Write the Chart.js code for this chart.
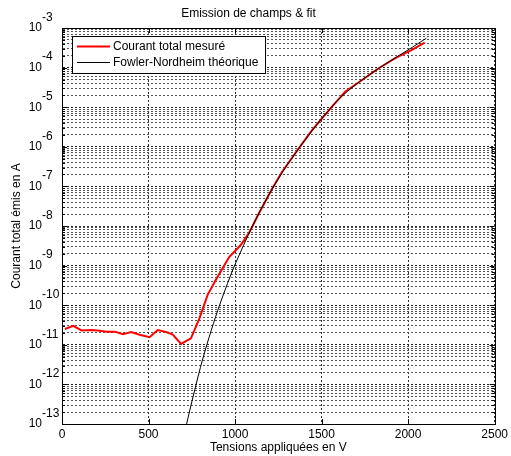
<!DOCTYPE html>
<html>
<head>
<meta charset="utf-8">
<script src="https://cdn.jsdelivr.net/npm/chart.js@4/dist/chart.umd.min.js"></script>
<style>
html,body{margin:0;padding:0;background:#fff}
#wrap{width:511px;height:456px}
</style>
</head>
<body>
<div id="wrap"><canvas id="c"></canvas></div>
<script>
// measured emission current (A) vs applied voltage (V)
const voltsMesure=[17,65,113,171,218,257,305,352,400,448,506,553,602,640,688,745,793,841,889,966,1033,1080,1138,1215,1272,1368,1444,1502,1559,1636,1732,1828,1923,2019,2096];
const courantMesure=[2.5e-11,3.0e-11,2.3e-11,2.35e-11,2.25e-11,2.15e-11,2.15e-11,1.85e-11,2.1e-11,1.8e-11,1.55e-11,2.35e-11,2.1e-11,1.8e-11,1.05e-11,1.45e-11,4.5e-11,1.8e-10,4.4e-10,1.65e-9,3.3e-9,6.6e-9,2.1e-8,8.9e-8,2.35e-7,9.1e-7,2.6e-6,5.2e-6,1.02e-5,2.45e-5,4.8e-5,9.5e-5,1.7e-4,2.75e-4,4.25e-4];

// Fowler-Nordheim curve
const voltsFN=[700,736,800,850,900,956,1000,1100,1200,1300,1400,1500,1600,1700,1800,1900,2000,2105];
const courantFN=[4.0e-14,2.0e-13,2.7e-12,1.55e-11,7.4e-11,3.5e-10,1.07e-9,9.8e-9,6.7e-8,3.4e-7,1.4e-6,5.1e-6,1.6e-5,3.8e-5,7.8e-5,1.5e-4,2.8e-4,5.5e-4];

const labels=['Courant total mesuré','Fowler-Nordheim théorique'];
const yExponents=[-13,-12,-11,-10,-9,-8,-7,-6,-5,-4,-3];
const xTicks=[0,500,1000,1500,2000,2500];

const FONT='"Liberation Sans", Arial, sans-serif';

const yTickList=[];
yExponents.forEach((e,i)=>{
  yTickList.push({value:Math.pow(10,e),major:true});
  if(i<yExponents.length-1) for(let k=2;k<=9;k++) yTickList.push({value:k*Math.pow(10,e),major:false});
});

const matlabAxes={
  id:'matlabAxes',
  afterDraw(chart){
    const {ctx,chartArea:a,scales:{x,y}}=chart;
    ctx.save();
    // inner tick marks
    ctx.strokeStyle='#000';ctx.lineWidth=1;
    ctx.beginPath();
    y.ticks.forEach(t=>{
      const py=Math.round(y.getPixelForValue(t.value))+0.5;
      const len=t.major?5:3;
      ctx.moveTo(a.left,py);ctx.lineTo(a.left+len,py);
      ctx.moveTo(a.right,py);ctx.lineTo(a.right-len,py);
    });
    xTicks.forEach(v=>{
      const px=Math.round(x.getPixelForValue(v))+0.5;
      ctx.moveTo(px,a.bottom);ctx.lineTo(px,a.bottom-5);
      ctx.moveTo(px,a.top);ctx.lineTo(px,a.top+5);
    });
    ctx.stroke();
    // box
    ctx.strokeRect(Math.round(a.left)+0.5,Math.round(a.top)+0.5,Math.round(a.right-a.left),Math.round(a.bottom-a.top));
    // y labels 10^n
    ctx.fillStyle='#000';
    ctx.textBaseline='middle';
    yExponents.forEach(e=>{
      const py=y.getPixelForValue(Math.pow(10,e));
      ctx.font='12px '+FONT;
      ctx.textAlign='right';
      ctx.fillText('10',42,py);
      ctx.textAlign='left';
      ctx.fillText(String(e),42,py-10.5);
    });
    // legend
    const lx=72,ly=36,lw=193,lh=37;
    ctx.fillStyle='#fff';ctx.fillRect(lx,ly,lw,lh);
    ctx.strokeStyle='#000';ctx.lineWidth=1;ctx.strokeRect(lx+0.5,ly+0.5,lw,lh);
    const ds=chart.data.datasets;
    [0,1].forEach(i=>{
      const cy=46+i*16;
      ctx.strokeStyle=ds[i].borderColor;ctx.lineWidth=ds[i].borderWidth;
      ctx.beginPath();ctx.moveTo(77,cy+0.5);ctx.lineTo(110,cy+0.5);ctx.stroke();
      ctx.fillStyle='#000';ctx.font='12px '+FONT;ctx.textAlign='left';
      ctx.fillText(ds[i].label,113,cy+0.5);
    });
    ctx.restore();
  }
};

new Chart(document.getElementById('c'),{
  type:'line',
  data:{
    datasets:[
      {label:labels[0],data:voltsMesure.map((v,i)=>({x:v,y:courantMesure[i]})),borderColor:'#ff0000',borderWidth:2,pointRadius:0,tension:0,fill:false,order:1},
      {label:labels[1],data:voltsFN.map((v,i)=>({x:v,y:courantFN[i]})),borderColor:'#000000',borderWidth:1,pointRadius:0,tension:0.3,fill:false,order:0}
    ]
  },
  options:{
    responsive:true,maintainAspectRatio:false,animation:false,
    layout:{padding:{top:0,right:14,left:0,bottom:0}},
    plugins:{
      legend:{display:false},tooltip:{enabled:false},
      title:{display:true,text:'Emission de champs & fit',color:'#000',font:{family:FONT,size:12,weight:'normal'},padding:{top:6,bottom:7.6}}
    },
    scales:{
      x:{
        type:'linear',min:0,max:2500,
        afterBuildTicks:s=>{s.ticks=xTicks.map(v=>({value:v}));},
        afterFit:s=>{s.height=32;},
        ticks:{color:'#000',font:{family:FONT,size:12},padding:3,maxRotation:0,callback:v=>String(v)},
        grid:{color:'#333',lineWidth:1,drawTicks:false},
        border:{display:true,color:'#000',dash:[2,2]},
        title:{display:true,text:'Tensions appliquées en V',color:'#000',font:{family:FONT,size:12},padding:{top:0,bottom:1}}
      },
      y:{
        type:'logarithmic',min:1e-13,max:1e-3,
        afterBuildTicks:s=>{s.ticks=yTickList.map(t=>({value:t.value,major:t.major}));},
        afterFit:s=>{s.width=62;},
        ticks:{display:false},
        grid:{color:c=>c.tick&&c.tick.major?'#222':'#555',lineWidth:1,drawTicks:false},
        border:{display:true,color:'#000',dash:[2,2]},
        title:{display:true,text:'Courant total émis en A',color:'#000',font:{family:FONT,size:12},padding:{top:9,bottom:0}}
      }
    }
  },
  plugins:[matlabAxes]
});
</script>
</body>
</html>
